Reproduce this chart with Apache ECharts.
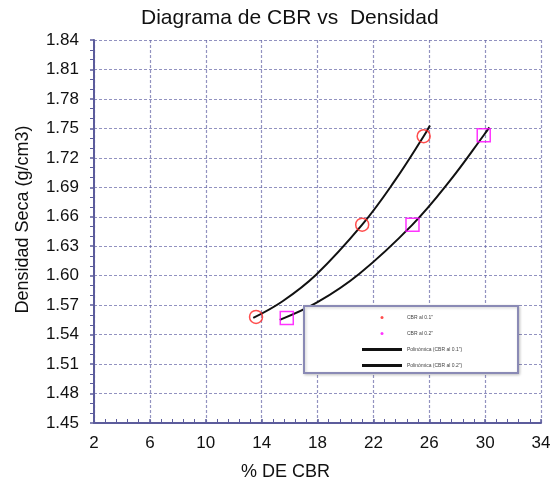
<!DOCTYPE html>
<html>
<head>
<meta charset="utf-8">
<script src="https://cdn.jsdelivr.net/npm/echarts@6/dist/echarts.min.js"></script>
<style>
  html, body { margin: 0; padding: 0; background: #fff; }
  #chart { width: 556px; height: 486px; }
</style>
</head>
<body>
<div id="chart"></div>
<script>
// measured points (x = % CBR, y = dry density g/cm3)
const cbr01 = [[13.6, 1.558], [21.2, 1.652], [25.6, 1.742]];
const cbr02 = [[15.8, 1.557], [24.8, 1.652], [29.9, 1.743]];

// trend curves
const poly01 = [[13.4, 1.557], [15.5, 1.574], [17.9, 1.601], [21.2, 1.652], [23.5, 1.696], [25.6, 1.742], [26.05, 1.753]];
const poly02 = [[15.3, 1.555], [18.0, 1.573], [21.0, 1.602], [24.8, 1.652], [27.5, 1.697], [29.9, 1.743], [30.3, 1.751]];

const seriesNames = ['CBR al 0.1"', 'CBR al 0.2"', 'Polinómica (CBR al 0.1")', 'Polinómica (CBR al 0.2")'];

const FONT = 'Liberation Sans, Arial, sans-serif';
const AXIS_COLOR = '#5c5c9c';
const GRID_COLOR = 'rgba(100,100,165,0.7)';

const chart = echarts.init(document.getElementById('chart'));

chart.setOption({
  backgroundColor: '#fff',
  animation: false,
  title: {
    text: 'Diagrama de CBR vs  Densidad',
    left: 136,
    top: 3,
    textStyle: { fontFamily: FONT, fontSize: 21, fontWeight: 'normal', color: '#111' }
  },
  grid: { left: 94, right: 15, top: 40, bottom: 61 },
  xAxis: {
    type: 'value',
    min: 2, max: 34, interval: 4,
    name: '% DE CBR',
    nameLocation: 'middle',
    nameGap: 40,
    nameTextStyle: { fontFamily: FONT, fontSize: 18, color: '#111', padding: [0, 64, 0, 0] },
    axisLine: { lineStyle: { color: AXIS_COLOR, width: 2 } },
    axisTick: { inside: true, length: 4, lineStyle: { color: AXIS_COLOR, width: 1.5 } },
    minorTick: { show: true, splitNumber: 5, length: 4, lineStyle: { color: AXIS_COLOR, width: 1 } },
    axisLabel: { fontFamily: FONT, fontSize: 17, color: '#111', margin: 12 },
    splitLine: { lineStyle: { color: GRID_COLOR, type: [3, 2], width: 1.2 } }
  },
  yAxis: {
    type: 'value',
    min: 1.45, max: 1.84, interval: 0.03,
    name: 'Densidad Seca (g/cm3)',
    nameLocation: 'middle',
    nameGap: 62,
    nameTextStyle: { fontFamily: FONT, fontSize: 18, color: '#111', padding: [0, 0, 0, 24] },
    axisLine: { show: true, lineStyle: { color: AXIS_COLOR, width: 2 } },
    axisTick: { show: true, length: 4, lineStyle: { color: AXIS_COLOR, width: 1.5 } },
    minorTick: { show: true, splitNumber: 3, length: 4, lineStyle: { color: AXIS_COLOR, width: 1 } },
    axisLabel: {
      fontFamily: FONT, fontSize: 17, color: '#111', margin: 15,
      formatter: (v) => v.toFixed(2)
    },
    splitLine: { lineStyle: { color: GRID_COLOR, type: [3, 2], width: 1.2 } }
  },
  legend: {
    orient: 'vertical',
    left: 357,
    top: 310,
    z: 5,
    itemWidth: 40,
    itemHeight: 3,
    itemGap: 11,
    textStyle: { fontFamily: FONT, fontSize: 5, color: '#444' },
    data: [
      { name: seriesNames[0], icon: 'circle', itemStyle: { color: '#ff2020', borderWidth: 0 } },
      { name: seriesNames[1], icon: 'circle', itemStyle: { color: '#ff00ff', borderWidth: 0 } },
      { name: seriesNames[2], icon: 'rect', itemStyle: { color: '#111' } },
      { name: seriesNames[3], icon: 'rect', itemStyle: { color: '#111' } }
    ]
  },
  // legend frame drawn over the plot like the spreadsheet original
  graphic: [{
    type: 'rect',
    left: 303, top: 305, z: 3,
    shape: { width: 214, height: 67 },
    style: {
      fill: '#fff', stroke: '#8a8ab5', lineWidth: 2,
      shadowBlur: 3, shadowColor: 'rgba(0,0,0,0.2)', shadowOffsetX: 1, shadowOffsetY: 1
    }
  }],
  series: [
    {
      name: seriesNames[2],
      type: 'line',
      data: poly01,
      smooth: 0.4,
      showSymbol: false,
      lineStyle: { color: '#111', width: 2 },
      itemStyle: { color: '#111' },
      z: 1
    },
    {
      name: seriesNames[3],
      type: 'line',
      data: poly02,
      smooth: 0.4,
      showSymbol: false,
      lineStyle: { color: '#111', width: 2 },
      itemStyle: { color: '#111' },
      z: 1
    },
    {
      name: seriesNames[0],
      type: 'scatter',
      data: cbr01,
      symbol: 'circle',
      symbolSize: 13,
      itemStyle: { color: 'rgba(0,0,0,0)', borderColor: '#ff2020', borderWidth: 1.5 },
      z: 2
    },
    {
      name: seriesNames[1],
      type: 'scatter',
      data: cbr02,
      symbol: 'rect',
      symbolSize: 13,
      itemStyle: { color: 'rgba(0,0,0,0)', borderColor: '#ff00ff', borderWidth: 1.5 },
      z: 2
    }
  ]
});
</script>
</body>
</html>
